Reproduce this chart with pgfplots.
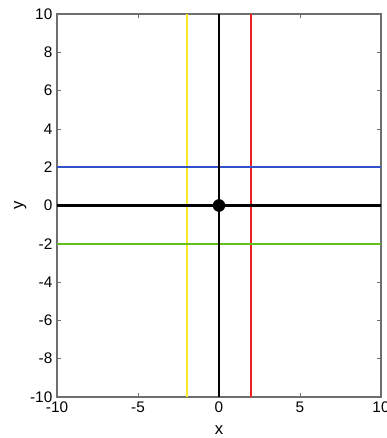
\documentclass[border=0pt]{standalone}
\usepackage{fontspec}
\setmainfont{Liberation Sans}
\usepackage{pgfplots}
\pgfplotsset{compat=1.18}
\definecolor{lineblue}{RGB}{50,80,200}
\definecolor{linegreen}{RGB}{100,190,30}
\definecolor{lineyellow}{RGB}{250,235,40}
\definecolor{linered}{RGB}{240,30,30}
\definecolor{boxgray}{RGB}{110,110,110}
\begin{document}
\begin{tikzpicture}
\begin{axis}[
  name=ax,
  scale only axis,
  width=243pt, height=287.25pt,
  xmin=-10, xmax=10, ymin=-10, ymax=10,
  xtick={-10,-5,0,5,10},
  ytick={-10,-8,...,10},
  tick align=inside,
  major tick length=3pt,
  axis line style={boxgray, line width=0.8pt},
  every tick/.style={boxgray},
  tick label style={font=\fontsize{11.5}{12}\selectfont},
  label style={font=\fontsize{12.5}{13}\selectfont},
  /pgf/number format/assume math mode=true,
  xlabel={x}, ylabel={y},
  xlabel style={yshift=-3pt},
  ylabel style={yshift=-4pt},
]
\addplot[color=lineyellow, solid, line width=1.4pt] table {
x y
-2 -10
-2 10
};
\addplot[color=linered, solid, line width=1.45pt] table {
x y
2 -10
2 10
};
\addplot[color=lineblue, solid, line width=1.4pt] table {
x y
-10 2
10 2
};
\addplot[color=linegreen, solid, line width=1.4pt] table {
x y
-10 -2
10 -2
};
\addplot[color=black, solid, line width=2.2pt] table {
x y
0 -10
0 10
};
\addplot[color=black, solid, line width=2.2pt] table {
x y
-10 0
10 0
};
\addplot[only marks, mark=*, mark size=4.5pt, black] coordinates {(0,0)};
\end{axis}
\pgfresetboundingbox
\path[use as bounding box] ([shift={(-42.75pt,-30.75pt)}]ax.south west) rectangle ([shift={(4.5pt,10.5pt)}]ax.north east);
\end{tikzpicture}
\end{document}
